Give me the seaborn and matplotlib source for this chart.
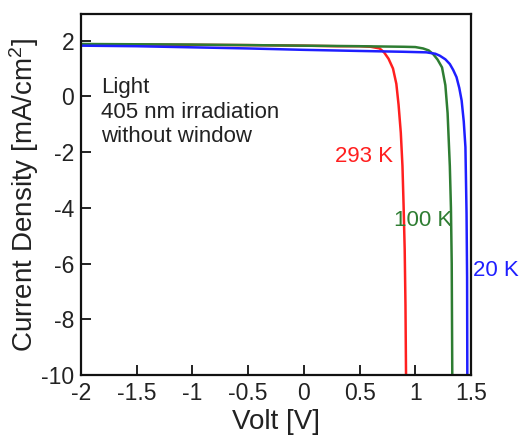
import matplotlib
matplotlib.use("Agg")
import matplotlib.pyplot as plt
import seaborn as sns
import pandas as pd

# I-V curves under 405 nm light at three temperatures
v_293 = [-2.0, -1.5, -1.0, -0.5, 0.0, 0.3, 0.5, 0.6, 0.68, 0.72, 0.76, 0.80, 0.83,
         0.85, 0.87, 0.885, 0.895, 0.905, 0.912, 0.917]
j_293 = [1.87, 1.86, 1.85, 1.84, 1.82, 1.80, 1.80, 1.78, 1.72, 1.58, 1.35, 1.0, 0.45,
         -0.3, -1.3, -2.5, -3.9, -5.5, -7.5, -10.0]

v_100 = [-2.0, -1.5, -1.0, -0.5, 0.0, 0.5, 0.9, 1.0, 1.07, 1.12, 1.16, 1.20, 1.24,
         1.27, 1.29, 1.31, 1.32, 1.327, 1.332]
j_100 = [1.88, 1.87, 1.86, 1.84, 1.82, 1.80, 1.78, 1.77, 1.72, 1.65, 1.52, 1.32, 1.04,
         0.4, -0.6, -2.5, -4.0, -6.0, -10.0]

v_20 = [-2.0, -1.5, -1.0, -0.5, 0.0, 0.5, 0.9, 1.1, 1.18, 1.22, 1.27, 1.31, 1.34,
        1.37, 1.395, 1.416, 1.435, 1.45, 1.46, 1.465, 1.467]
j_20 = [1.82, 1.80, 1.76, 1.72, 1.67, 1.63, 1.60, 1.58, 1.53, 1.46, 1.33, 1.16, 0.95,
        0.69, 0.3, -0.15, -0.9, -1.82, -4.2, -6.5, -10.0]

temps = ["293 K", "100 K", "20 K"]
colors = {"293 K": "#ff1f1f", "100 K": "#2e7d32", "20 K": "#1f1fff"}

x_ticks = [-2, -1.5, -1, -0.5, 0, 0.5, 1, 1.5]
x_ticklabels = ["-2", "-1.5", "-1", "-0.5", "0", "0.5", "1", "1.5"]
y_ticks = [-10, -8, -6, -4, -2, 0, 2]

frames = []
for name, v, j in zip(temps, [v_293, v_100, v_20], [j_293, j_100, j_20]):
    frames.append(pd.DataFrame({"V": v, "J": j, "T": name}))
df = pd.concat(frames, ignore_index=True)

sns.set_theme(style="ticks", rc={
    "xtick.direction": "in", "ytick.direction": "in",
    "xtick.major.size": 7, "ytick.major.size": 7,
    "xtick.major.width": 1.3, "ytick.major.width": 1.3,
    "xtick.color": "#111111", "ytick.color": "#111111",
    "xtick.labelcolor": "#222222", "ytick.labelcolor": "#222222",
    "xtick.labelsize": 16.5, "ytick.labelsize": 16.5,
    "xtick.major.pad": 5, "ytick.major.pad": 5,
    "axes.edgecolor": "#111111", "axes.linewidth": 1.6,
})
plt.rcParams["font.family"] = ["Liberation Sans", "DejaVu Sans"]
plt.rcParams["axes.unicode_minus"] = False

fig = plt.figure(figsize=(5.31, 4.43), dpi=100)
ax = fig.add_axes([0.1525, 0.1535, 0.7345, 0.8145])

sns.lineplot(data=df, x="V", y="J", hue="T", palette=colors, estimator=None,
             sort=False, linewidth=1.8, legend=False, ax=ax)

ax.set_xlim(-2, 1.5)
ax.set_ylim(-10, 2.95)
ax.set_xticks(x_ticks)
ax.set_xticklabels(x_ticklabels)
ax.set_yticks(y_ticks)

ax.set_xlabel("Volt [V]", fontsize=20, color="#222222", labelpad=3)
ax.set_ylabel(r"Current Density [mA/cm$\mathregular{^2}$]", fontsize=20,
              color="#222222", labelpad=0)

ax.text(0.051, 0.825, "Light\n405 nm irradiation\nwithout window", transform=ax.transAxes,
        fontsize=16, color="#222222", va="top", ha="left", linespacing=1.2)

ax.text(0.80, -2.15, "293 K", color=colors["293 K"], fontsize=16, ha="right", va="center")
ax.text(0.81, -4.45, "100 K", color=colors["100 K"], fontsize=16, ha="left", va="center")
ax.text(1.518, -6.24, "20 K", color=colors["20 K"], fontsize=16, ha="left", va="center",
        clip_on=False)

# inward major ticks on the bottom and left spines only
ax.tick_params(which="major", direction="in", length=7, width=1.3, color="#111111",
               bottom=True, left=True, top=False, right=False)
for line in ax.get_xticklines() + ax.get_yticklines():
    line.set_zorder(5)
    line.set_clip_on(False)

fig.savefig("out.png", dpi=100)
